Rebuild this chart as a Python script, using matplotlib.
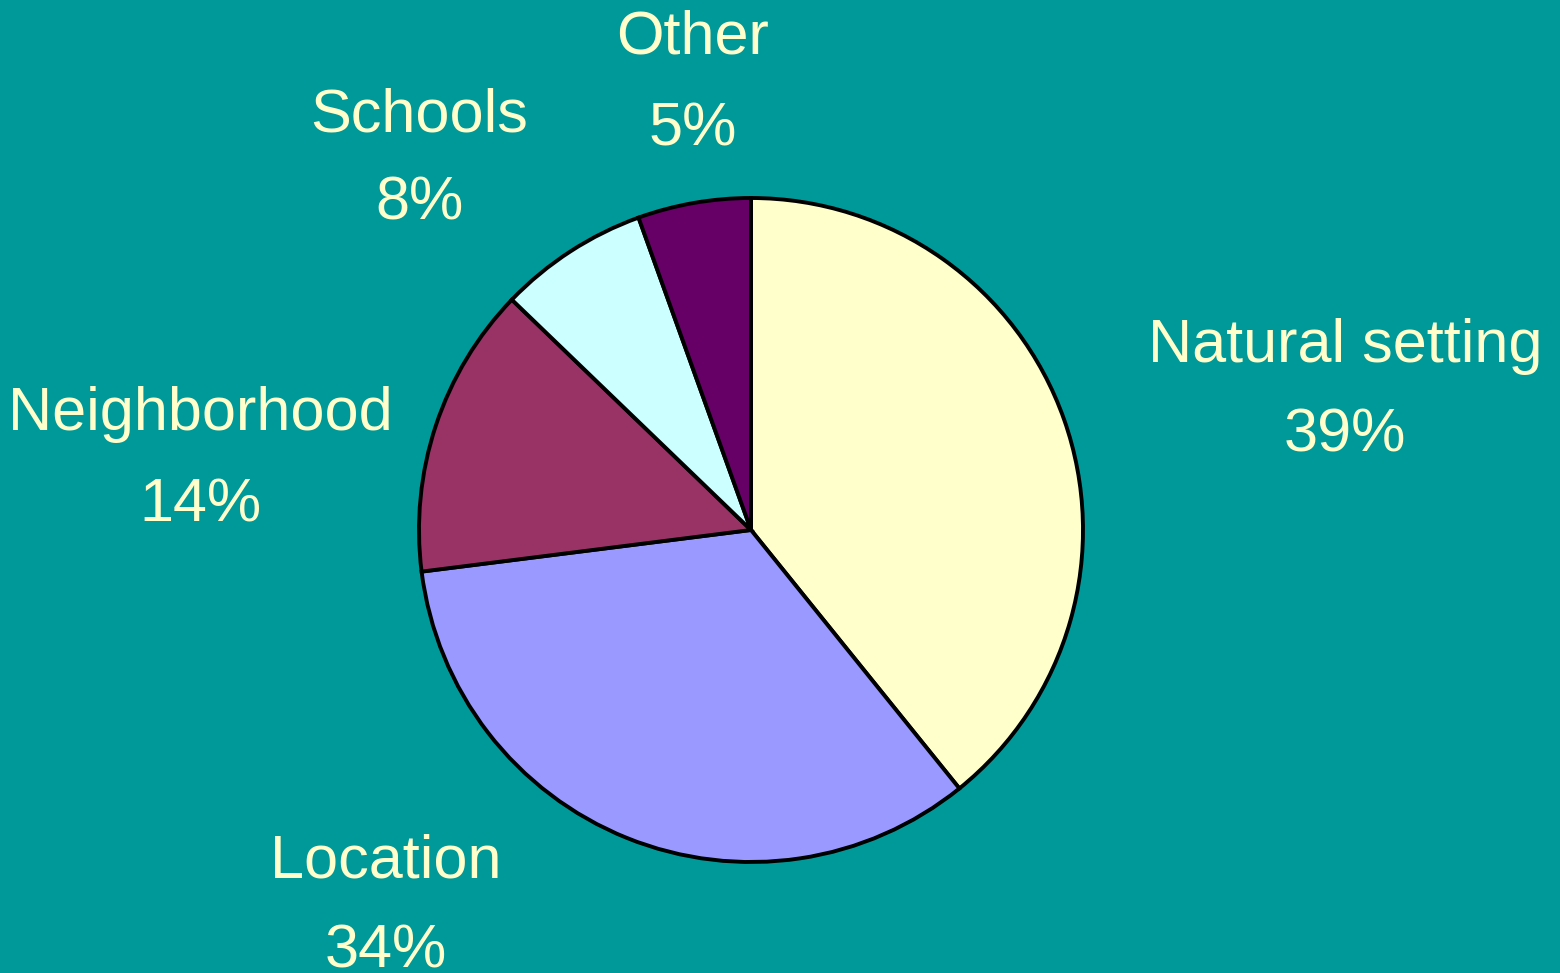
import matplotlib.pyplot as plt

# survey shares (percent), wedges as drawn and the rounded labels shown
labels = ['Natural setting', 'Location', 'Neighborhood', 'Schools', 'Other']
shares = [39.2, 33.8, 14.2, 7.3, 5.5]
pct_labels = ['39%', '34%', '14%', '8%', '5%']
colors = ['#FFFFCC', '#9999FF', '#993366', '#CCFFFF', '#660066']

bg = '#009999'
txt = '#FFFFCC'

# label baselines in pixels (x centre, y of name, y of percent), from top-left
label_px = [(1345, 362, 452), (386, 877, 968), (200, 430, 521),
            (419, 131, 220), (693, 54, 145)]

W, H = 1560, 973
cx, cy, r = 751, 530, 332

fig = plt.figure(figsize=(W / 100, H / 100), dpi=100)
fig.patch.set_facecolor(bg)
ax = fig.add_axes([0, 0, 1, 1])
ax.set_facecolor(bg)

ax.pie(shares, colors=colors, startangle=90, counterclock=False,
       wedgeprops=dict(edgecolor='black', linewidth=2.8))

# 1 data unit = r pixels, centre of pie at (cx, cy)
ax.set_aspect('auto')
ax.set_xlim(-cx / r, (W - cx) / r)
ax.set_ylim(-(H - cy) / r, cy / r)
ax.axis('off')


def px(x, y):
    return (x - cx) / r, (cy - y) / r


for name, pct, (lx, ly1, ly2) in zip(labels, pct_labels, label_px):
    ax.text(*px(lx, ly1), name, ha='center', va='baseline', color=txt,
            fontsize=44, family='Liberation Sans')
    ax.text(*px(lx, ly2), pct, ha='center', va='baseline', color=txt,
            fontsize=44, family='Liberation Sans')

fig.savefig('out.png', dpi=100, facecolor=bg)
